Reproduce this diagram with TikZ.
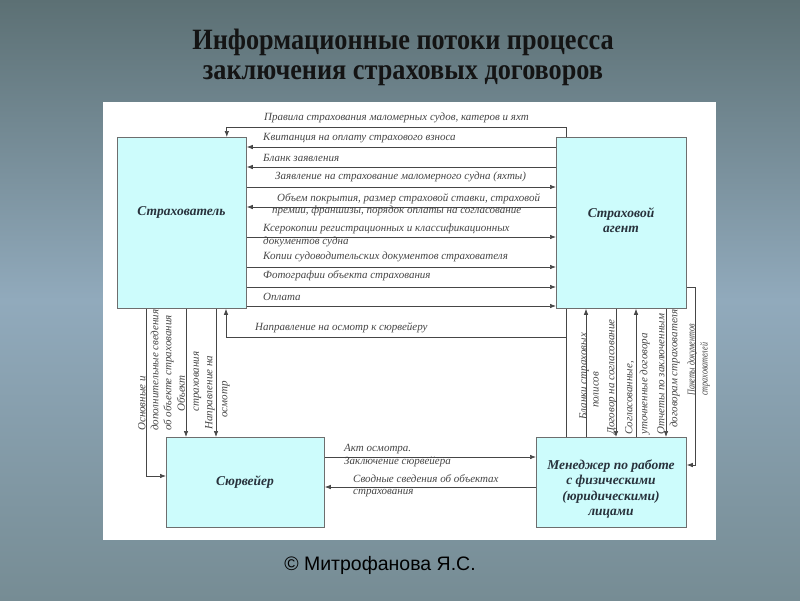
\documentclass[tikz,border=0pt]{standalone}
\usepackage{fontspec}
\setmainfont{Liberation Serif}
\newfontfamily\sansf{Liberation Sans}
\usetikzlibrary{arrows.meta}
\definecolor{boxfill}{RGB}{205,252,252}
\definecolor{boxline}{RGB}{110,110,110}
\definecolor{lnc}{RGB}{70,70,70}
\definecolor{txc}{RGB}{70,70,70}
\definecolor{blc}{RGB}{40,50,60}
\definecolor{bgtop}{RGB}{92,112,116}
\definecolor{bgmid}{RGB}{145,170,188}
\definecolor{bgbot}{RGB}{118,140,148}
\begin{document}
\begin{tikzpicture}[x=1pt,y=-1pt,
  box/.style={draw=boxline, line width=0.8pt, fill=boxfill, inner sep=0pt, anchor=north west},
  flow/.style={draw=lnc, line width=0.7pt},
  arr/.style={flow, -{Latex[length=6pt,width=4.5pt]}},
  lab/.style={font=\fontsize{11}{13}\selectfont\itshape, text=txc, inner sep=0pt, align=left},
  vlab/.style={lab, rotate=90, anchor=west},
  boxlab/.style={font=\fontsize{13.5}{15.5}\selectfont\bfseries\itshape, text=blc, align=center, inner sep=0pt},
  ttl/.style={font=\fontsize{29.5}{30}\selectfont\bfseries, text={rgb,255:red,20;green,20;blue,20}, inner sep=0pt, anchor=base}
]
\useasboundingbox (0,0) rectangle (800,600);
\shade[top color=bgtop, bottom color=bgbot, middle color=bgmid] (0,0) rectangle (800,600);
\fill[white] (103,102) rectangle (716,540);

\node[ttl] (title1) at (403,49) {\scalebox{0.89}[1]{Информационные потоки процесса}};
\node[ttl] (title2) at (403,79) {\scalebox{0.89}[1]{заключения страховых договоров}};
\node[font=\sansf\fontsize{19.5}{21}\selectfont, text=black] (foot) at (380,565) {© Митрофанова Я.С.};

% boxes
\node[box, minimum width=129pt, minimum height=171pt] (s) at (117,137) {};
\node[box, minimum width=130pt, minimum height=171pt] (a) at (556,137) {};
\node[box, minimum width=158pt, minimum height=90pt] (v) at (166,437) {};
\node[box, minimum width=150pt, minimum height=90pt] (m) at (536,437) {};
\node[boxlab] (lbS) at (181.5,212) {Страхователь};
\node[boxlab] (lbA) at (621,220) {Страховой\\агент};
\node[boxlab] (lbV) at (245,482) {Сюрвейер};
\node[boxlab] (lbM) at (611,489) {Менеджер по работе\\с физическими\\(юридическими)\\лицами};

% top flows
\draw[arr] ([xshift=10pt]a.north west) -- ++(0,-10) -| ([xshift=-20pt]s.north east);
\draw[arr] (a.west |- 0,147) -- (s.east |- 0,147);
\draw[arr] (a.west |- 0,167) -- (s.east |- 0,167);
\draw[arr] (s.east |- 0,187) -- (a.west |- 0,187);
\draw[arr] (a.west |- 0,207) -- (s.east |- 0,207);
\draw[arr] (s.east |- 0,237) -- (a.west |- 0,237);
\draw[arr] (s.east |- 0,267) -- (a.west |- 0,267);
\draw[arr] (s.east |- 0,287) -- (a.west |- 0,287);
\draw[arr] (s.east |- 0,306) -- (a.west |- 0,306);

\node[lab, anchor=west] (t1) at (264,118) {Правила страхования маломерных судов, катеров и яхт};
\node[lab, anchor=west] (t2) at (263,138) {Квитанция на оплату страхового взноса};
\node[lab, anchor=west] (t3) at (263,158) {Бланк заявления};
\node[lab, anchor=west] (t4) at (275,177) {Заявление на страхование маломерного судна (яхты)};
\node[lab, anchor=west, font=\fontsize{11}{12.5}\selectfont\itshape] (t5) at (272,204.5) {\hspace*{5pt}Объем покрытия, размер страховой ставки, страховой\\премии, франшизы, порядок оплаты на согласование};
\node[lab, anchor=west] (t6) at (263,235) {Ксерокопии регистрационных и классификационных\\документов судна};
\node[lab, anchor=west] (t7) at (263,257) {Копии судоводительских документов страхователя};
\node[lab, anchor=west] (t8) at (263,276) {Фотографии объекта страхования};
\node[lab, anchor=west] (t9) at (263,297) {Оплата};

% junction line
\coordinate (j) at (566,337);
\draw[flow] (j |- a.south) -- (j |- m.north);
\draw[arr] (j) -| (226,0 |- s.south);
\node[lab, anchor=west] (t10) at (255,328) {Направление на осмотр к сюрвейеру};

% left verticals
\draw[arr] (146,0 |- s.south) |- (v.west |- 0,476);
\draw[arr] (186,0 |- s.south) -- (186,0 |- v.north);
\draw[arr] (216,0 |- s.south) -- (216,0 |- v.north);
\node[vlab] (l1) at (156,431) {Основные и\\дополнительные сведения\\об объекте страхования};
\node[vlab, font=\fontsize{11}{14}\selectfont\itshape] (l2) at (189,412) {Объект\\страхования};
\node[vlab, font=\fontsize{11}{15}\selectfont\itshape] (l3) at (217.5,430) {Направление на\\\hspace*{12pt}осмотр};

% right verticals
\draw[arr] (586,0 |- m.north) -- (586,0 |- a.south);
\draw[arr] (616,0 |- a.south) -- (616,0 |- m.north);
\draw[arr] (636,0 |- m.north) -- (636,0 |- a.south);
\draw[arr] (666,0 |- a.south) -- (666,0 |- m.north);
\draw[arr] (a.east |- 0,287) -- (695,287) |- (m.east |- 0,465);
\node[vlab, font=\fontsize{11}{12}\selectfont\itshape] (r1) at (589,420) {Бланки страховых\\\hspace*{12pt}полисов};
\node[vlab] (r2) at (612,435) {Договор на согласование};
\node[vlab, font=\fontsize{11}{15}\selectfont\itshape] (r3) at (637.5,435) {Согласованные,\\уточненные договора};
\node[vlab] (r4) at (668.5,435) {Отчеты по заключенным\\\hspace*{7pt}договорам страхователя};
\node[vlab, font=\fontsize{10.5}{13}\selectfont\itshape] (r5) at (698.5,396) {\scalebox{0.77}[1]{Пакеты документов}\\\scalebox{0.77}[1]{страхователей}};

% bottom flows
\draw[arr] (v.east |- 0,457) -- (m.west |- 0,457);
\draw[arr] (m.west |- 0,487) -- (v.east |- 0,487);
\node[lab, anchor=west, font=\fontsize{11}{12.5}\selectfont\itshape] (t11) at (344,455.5) {Акт осмотра.\\Заключение сюрвейера};
\node[lab, anchor=west, font=\fontsize{11}{12.5}\selectfont\itshape] (t12) at (353,485.5) {Сводные сведения об объектах\\страхования};
\end{tikzpicture}
\end{document}
